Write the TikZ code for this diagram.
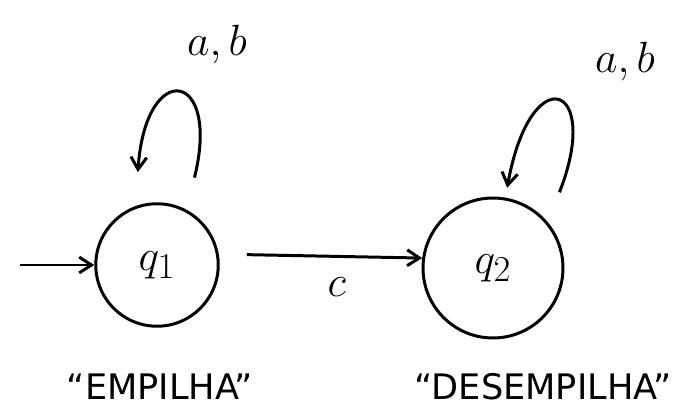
\documentclass[tikz,border=0pt]{standalone}
\usepackage{amsmath}
\usepackage{fontspec}
\setsansfont{DejaVu Sans}
\usetikzlibrary{arrows.meta, positioning, automata}

\begin{document}
\begin{tikzpicture}[x=0.02cm, y=-0.02cm, line width=1.7pt, >={Straight Barb[length=7pt,width=9pt]}]
            \tikzset{symb/.style={font=\fontsize{30}{32}\selectfont}}
            \useasboundingbox (0,0) rectangle (686,418);
            % States
            \node[state, draw, line width=1.7pt, minimum size=2.45cm, font=\fontsize{32}{34}\selectfont] (q1) at (157,265) {$q_1$};
            \node[state, draw, line width=1.7pt, minimum size=2.8cm, font=\fontsize{32}{34}\selectfont] (q2) at (493,268) {$q_2$};
            \coordinate (start) at (20,265);
            
            % Labels under the states
            \node[font=\fontsize{20}{22}\sffamily] (push) at (160,387) {``EMPILHA''};
            \node[font=\fontsize{20}{22}\sffamily] (pop) at (543,387) {``DESEMPILHA''};
            
            % Labels of the loops
            \node[symb] (ab1) at (217,45) {$a,b$};
            \node[symb] (ab2) at (625,62) {$a,b$};
            
            % Transitions
            \draw[->] (start) -- (q1);
            \draw[->, shorten <=0.56cm] (q1.10) -- node[pos=0.58, below=8pt, symb] {$c$} (q2.172);
            \draw[->, shorten <=0.66cm, shorten >=0.68cm] (q1.62) .. controls +(35,-140) and +(10,-148) .. (q1.110);
            \draw[->, shorten <=0.64cm, shorten >=0.2cm] (q2.40) .. controls +(55,-140) and +(25,-140) .. (q2.80);
        \end{tikzpicture}
\end{document}
